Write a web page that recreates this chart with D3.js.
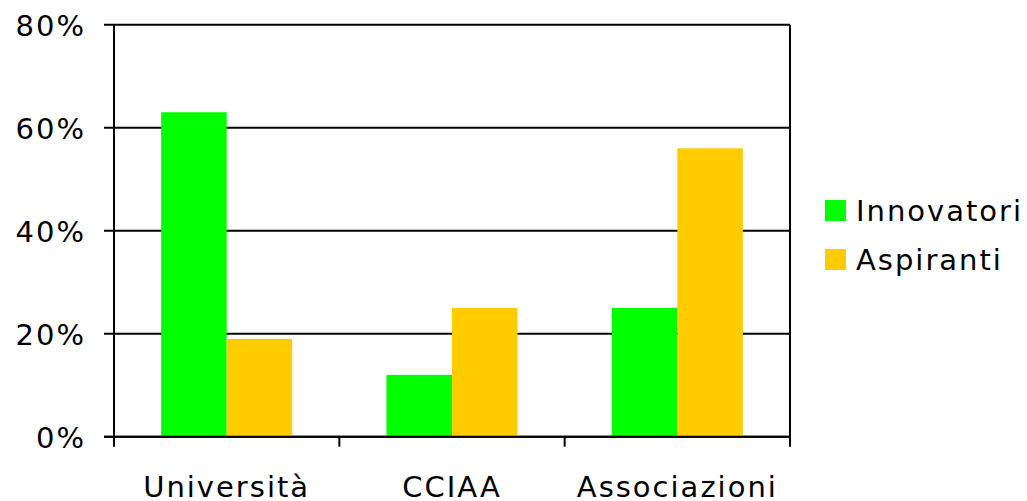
<!DOCTYPE html>
<html>
<head>
<meta charset="utf-8">
<script src="https://cdn.jsdelivr.net/npm/d3@7"></script>
<style>
  body { margin: 0; background: #fff; }
  svg text { font-family: "DejaVu Sans", Verdana, sans-serif; fill: #000; }
</style>
</head>
<body>
<svg id="chart" width="1027" height="501"></svg>
<script>
const categories = ['Università', 'CCIAA', 'Associazioni'];
const seriesNames = ['Innovatori', 'Aspiranti'];
const innovatori = [63, 12, 25];
const aspiranti = [19, 25, 56];
const yTicks = [0, 20, 40, 60, 80];
const colors = ['#00ff00', '#ffcc00'];

const svg = d3.select('#chart');
const plotLeft = 114, plotRight = 790, plotTop = 24.7, plotBottom = 436.7;

const x0 = d3.scaleBand().domain(categories).range([plotLeft, plotRight]);
const x1 = d3.scaleBand().domain(seriesNames)
  .range([0, x0.bandwidth()]).paddingOuter(0.72).paddingInner(0);
const y = d3.scaleLinear().domain([0, 80]).range([plotBottom, plotTop]);

// gridlines + y ticks
svg.append('g').selectAll('line').data(yTicks).join('line')
  .attr('x1', plotLeft - 10).attr('x2', plotRight)
  .attr('y1', (d) => y(d)).attr('y2', (d) => y(d))
  .attr('stroke', '#000').attr('stroke-width', 2);

svg.append('g').selectAll('text').data(yTicks).join('text')
  .attr('x', 86).attr('y', (d) => y(d) + 11)
  .attr('text-anchor', 'end')
  .attr('font-size', 29).attr('letter-spacing', 2)
  .text((d) => d + '%');

// bars
const data = categories.map((c, i) => ({ cat: c, vals: [innovatori[i], aspiranti[i]] }));
svg.append('g').selectAll('g').data(data).join('g')
  .attr('transform', (d) => `translate(${x0(d.cat)},0)`)
  .selectAll('rect')
  .data((d) => d.vals.map((v, j) => ({ name: seriesNames[j], v, j })))
  .join('rect')
  .attr('x', (d) => x1(d.name))
  .attr('width', x1.bandwidth())
  .attr('y', (d) => y(d.v))
  .attr('height', (d) => plotBottom - y(d.v))
  .attr('fill', (d) => colors[d.j]);

// axis lines
const xBounds = categories.map((c) => x0(c)).concat([plotRight]);
svg.append('g').selectAll('line').data(xBounds).join('line')
  .attr('x1', (d) => d).attr('x2', (d) => d)
  .attr('y1', plotBottom).attr('y2', plotBottom + 10)
  .attr('stroke', '#000').attr('stroke-width', 2);
svg.append('line').attr('x1', plotLeft).attr('x2', plotLeft).attr('y1', plotTop).attr('y2', plotBottom)
  .attr('stroke', '#000').attr('stroke-width', 2);
svg.append('line').attr('x1', plotRight).attr('x2', plotRight).attr('y1', plotTop).attr('y2', plotBottom)
  .attr('stroke', '#000').attr('stroke-width', 2);
svg.append('line').attr('x1', plotLeft - 10).attr('x2', plotRight).attr('y1', plotBottom).attr('y2', plotBottom)
  .attr('stroke', '#000').attr('stroke-width', 2);

// category labels
svg.append('g').selectAll('text').data(categories).join('text')
  .attr('x', (d) => x0(d) + x0.bandwidth() / 2).attr('y', 497)
  .attr('text-anchor', 'middle')
  .attr('font-size', 29).attr('letter-spacing', 2)
  .text((d) => d);

// legend
const legend = svg.append('g').selectAll('g').data(seriesNames).join('g')
  .attr('transform', (d, i) => `translate(825,${200 + i * 49})`);
legend.append('rect').attr('width', 21).attr('height', 21).attr('fill', (d, i) => colors[i]);
legend.append('text').attr('x', 31).attr('y', 21)
  .attr('font-size', 29).attr('letter-spacing', 2)
  .text((d) => d);
</script>
</body>
</html>
